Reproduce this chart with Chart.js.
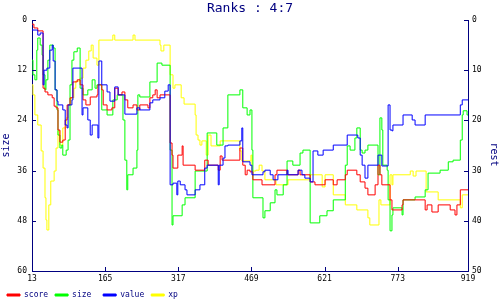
<!DOCTYPE html>
<html>
<head>
<meta charset="utf-8">
<script src="https://cdn.jsdelivr.net/npm/chart.js@4.4.1/dist/chart.umd.min.js"></script>
<style>
  html, body { margin: 0; padding: 0; background: #fff; }
  canvas { display: block; }
</style>
</head>
<body>
<canvas id="chart" width="500" height="300"></canvas>
<script>
const xTicks = [13, 165, 317, 469, 621, 773, 919]

const scoreX = [13,17,25,36,40,46,55,59,63,67,71,77,82,86,92,98,107,113,119,125,134,148,150,158,161,169,179,185,192,200,206,212,223,231,237,254,258,264,269,273,279,300,304,306,316,325,327,352,372,379,400,404,408,445,451,456,460,466,472,491,518,522,543,566,570,591,601,622,639,647,664,668,688,695,705,711,726,732,736,740,757,761,782,784,830,834,844,857,882,892,896,903,919]
const scoreY = [1.0,1.9,2.6,16.3,17.2,17.9,18.6,20.6,21.0,26.3,29.2,28.7,23.9,20.3,18.6,14.8,14.3,15.5,19.1,20.3,18.4,17.9,15.5,16.7,20.3,21.5,21.0,16.3,17.9,17.2,19.1,21.0,20.3,21.5,20.3,21.0,18.6,17.9,16.7,18.6,17.9,29.4,32.3,35.4,32.3,30.1,34.7,35.9,33.5,34.7,35.9,32.5,33.5,30.6,34.7,37.0,35.9,36.3,38.2,39.4,37.0,35.9,37.0,35.9,37.0,38.7,39.4,38.2,39.4,38.2,37.0,35.9,37.0,38.7,40.2,41.8,39.4,34.7,37.0,39.4,43.0,45.4,44.2,43.0,45.4,44.2,45.9,44.2,45.4,46.6,44.2,40.6,40.6]

const sizeX = [13,15,19,23,25,30,34,36,40,42,46,50,57,61,65,67,71,75,77,84,88,92,96,100,107,113,119,129,138,144,148,158,169,181,190,202,206,210,212,223,231,233,237,258,273,283,300,304,306,325,331,352,377,397,410,420,445,451,460,466,470,472,493,497,508,518,522,535,543,555,570,576,591,611,626,639,664,668,674,684,688,695,699,705,711,732,736,740,742,751,753,757,761,763,782,784,809,830,836,861,878,888,903,907,909,917,919]
const sizeY = [9.6,13.1,14.3,7.2,4.3,6.0,8.4,13.1,16.7,14.3,9.6,6.0,6.7,16.7,21.5,27.5,30.6,29.9,32.3,31.1,28.7,15.5,9.6,7.6,6.7,16.3,17.9,16.7,14.3,16.3,15.5,21.5,22.7,19.1,17.9,23.9,33.5,40.6,37.0,35.4,31.1,17.9,18.4,14.8,10.3,10.8,31.1,49.0,46.8,44.2,42.5,36.1,27.0,29.9,25.8,17.9,16.7,21.0,22.7,21.5,31.1,42.5,47.3,45.6,43.7,40.6,41.8,39.4,33.7,34.7,31.8,31.1,48.5,46.8,45.6,43.0,34.7,30.1,31.1,28.2,25.8,31.1,31.8,31.1,29.9,37.0,23.4,26.3,34.7,35.9,43.0,50.4,46.6,44.9,46.6,43.0,42.3,40.6,36.6,35.9,33.9,33.5,28.7,22.7,21.7,22.7,22.7]

const valueX = [13,25,30,36,38,44,50,55,57,61,65,67,77,82,86,88,96,98,117,119,129,134,138,150,152,158,169,175,185,192,206,231,237,258,264,279,289,296,300,306,314,316,321,331,335,352,362,372,377,400,402,410,414,420,445,449,451,466,470,493,497,508,514,524,543,545,566,574,580,591,597,607,618,639,668,690,695,699,705,711,732,740,753,757,761,763,784,803,809,830,903,907,919]
const valueY = [2.4,3.6,3.1,15.5,12.0,11.5,7.2,6.0,9.8,16.7,19.4,20.3,21.5,25.1,25.8,20.3,19.1,11.5,22.7,21.0,23.9,27.5,25.1,28.2,9.8,15.5,17.2,19.4,16.0,17.9,22.5,21.0,21.5,19.8,19.1,18.6,17.0,15.5,39.4,39.0,41.8,38.5,39.4,40.6,41.8,40.6,39.4,35.4,34.7,39.4,34.7,33.0,30.1,29.9,28.9,25.8,33.9,34.7,37.0,36.3,35.9,37.0,38.2,37.0,35.9,37.0,35.9,37.0,37.8,38.7,31.3,32.3,31.1,29.9,27.5,28.2,32.3,34.7,37.8,34.7,32.3,34.9,20.3,26.3,26.5,25.1,22.7,23.9,25.1,22.7,20.3,19.1,19.1]

const xpX = [13,15,19,25,32,36,40,42,44,48,52,59,63,67,71,77,84,88,94,100,104,113,119,125,131,136,140,148,152,181,185,223,227,279,281,287,300,306,310,323,329,352,354,358,362,366,375,379,385,404,445,449,468,470,478,485,491,497,520,545,591,616,622,639,664,688,711,715,734,738,757,761,763,799,805,811,832,857,903,907,919]
const xpY = [15.5,17.9,22.7,25.1,31.3,35.4,42.5,47.8,50.2,44.2,38.5,36.1,30.6,26.5,29.9,25.8,23.4,20.3,18.6,16.3,14.6,13.9,11.5,9.6,7.4,6.0,9.1,10.8,4.8,3.6,4.8,3.6,4.8,6.0,7.4,6.0,13.1,16.3,15.5,18.6,20.1,22.7,27.5,28.7,29.9,28.9,32.3,27.5,30.1,28.9,31.3,33.7,32.3,36.1,35.9,34.7,36.1,38.2,39.4,38.2,37.0,39.9,37.0,41.8,44.2,45.4,47.3,49.0,43.0,44.2,37.0,39.4,37.0,36.1,37.3,36.1,41.1,43.0,44.9,41.8,41.8]

const NAVY = '#000080'
const MONO = '"DejaVu Sans Mono", "Liberation Mono", monospace'

const toPoints = (xs, ys) => xs.map((x, i) => ({ x, y: ys[i] }))

function series(label, xs, ys, color, order) {
    return {
        label,
        data: toPoints(xs, ys),
        borderColor: color,
        backgroundColor: color,
        borderWidth: 1,
        pointRadius: 0,
        stepped: true,
        yAxisID: 'y',
        order
    }
}

// little inward tick marks like the original
const innerTicks = {
    id: 'innerTicks',
    afterDraw(chart) {
        const { ctx, chartArea: a, scales } = chart
        ctx.save()
        ctx.strokeStyle = NAVY
        ctx.lineWidth = 1
        ctx.beginPath()
        scales.x.ticks.forEach(t => {
            const px = Math.round(scales.x.getPixelForValue(t.value)) + 0.5
            ctx.moveTo(px, a.bottom)
            ctx.lineTo(px, a.bottom - 4)
        })
        scales.y.ticks.forEach(t => {
            const py = Math.round(scales.y.getPixelForValue(t.value)) + 0.5
            ctx.moveTo(a.left, py)
            ctx.lineTo(a.left + 4, py)
        })
        scales.y1.ticks.forEach(t => {
            const py = Math.round(scales.y1.getPixelForValue(t.value)) + 0.5
            ctx.moveTo(a.right, py)
            ctx.lineTo(a.right - 4, py)
        })
        ctx.stroke()
        ctx.restore()
    }
}

const data = {
    datasets: [
        series('score', scoreX, scoreY, '#ff0000', 1),
        series('size ', sizeX, sizeY, '#00ff00', 2),
        series('value', valueX, valueY, '#0000ff', 0),
        series('xp', xpX, xpY, '#ffff00', 3)
    ]
}

const options = {
    responsive: false,
    animation: false,
    events: [],
    layout: { padding: 0 },
    plugins: {
        title: {
            display: true,
            text: 'Ranks : 4:7',
            color: NAVY,
            font: { family: MONO, size: 13, weight: 'normal' },
            padding: { top: 0.5, bottom: 3.9 }
        },
        legend: {
            position: 'bottom',
            align: 'start',
            maxHeight: 16,
            labels: {
                color: NAVY,
                font: { family: MONO, size: 8 },
                boxWidth: 13,
                boxHeight: 2,
                padding: 7,
                sort: (a, b) => a.datasetIndex - b.datasetIndex
            }
        },
        tooltip: { enabled: false }
    },
    scales: {
        x: {
            type: 'linear',
            min: 13,
            max: 919,
            grid: { display: false, drawTicks: false },
            border: { display: true, color: NAVY, width: 1 },
            afterBuildTicks: (scale) => { scale.ticks = xTicks.map(v => ({ value: v })) },
            afterFit: (scale) => { scale.height = 13 },
            ticks: { autoSkip: false, maxRotation: 0, color: '#000', padding: 3, font: { family: MONO, size: 8 } }
        },
        y: {
            position: 'left',
            reverse: true,
            min: 0,
            max: 60,
            grid: { display: false, drawTicks: false },
            border: { display: true, color: NAVY, width: 1 },
            afterFit: (scale) => { scale.width = 32 },
            ticks: { stepSize: 12, color: '#000', padding: 5, font: { family: MONO, size: 8 } },
            title: { display: true, text: 'size', color: NAVY, padding: 0, font: { family: MONO, size: 10 } }
        },
        y1: {
            position: 'right',
            reverse: true,
            min: 0,
            max: 50,
            grid: { display: false, drawTicks: false },
            border: { display: true, color: NAVY, width: 1 },
            afterFit: (scale) => { scale.width = 32 },
            ticks: { stepSize: 10, color: '#000', padding: 4, font: { family: MONO, size: 8 } },
            title: { display: true, text: '   rest', color: NAVY, padding: 0, font: { family: MONO, size: 10 } }
        }
    }
}

new Chart('chart', { type: 'line', data, options, plugins: [innerTicks] })
</script>
</body>
</html>
